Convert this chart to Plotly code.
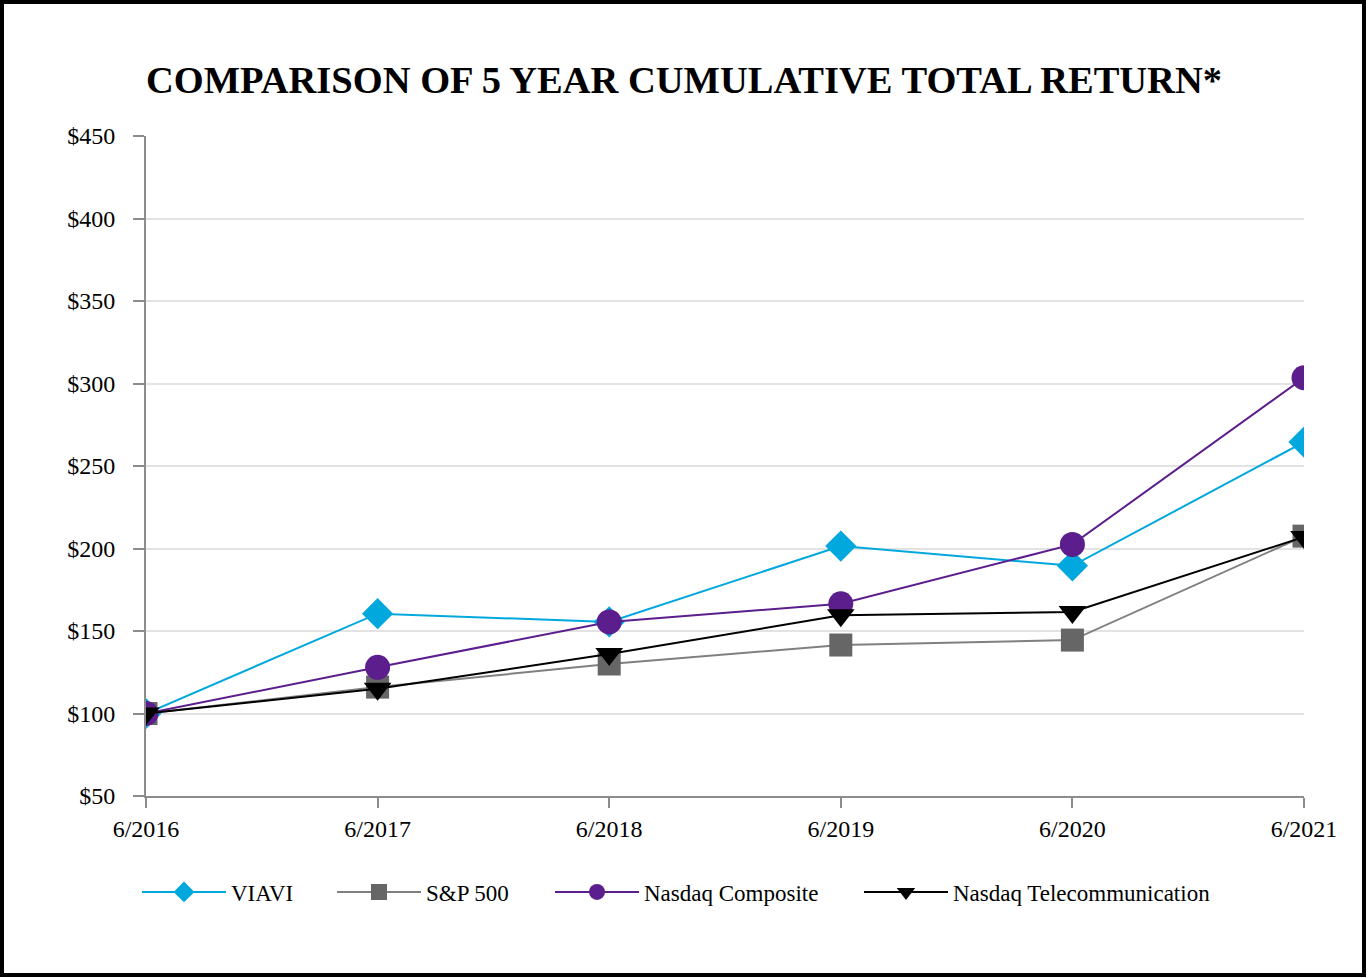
import plotly.graph_objects as go

periods = ["6/2016", "6/2017", "6/2018", "6/2019", "6/2020", "6/2021"]
viavi = [100, 160.5, 155.5, 201.5, 189.5, 264.5]
sp500 = [100, 116, 130, 141.5, 144.5, 207.5]
nasdaq_comp = [100, 128, 155.5, 166.5, 202.5, 303.5]
nasdaq_tel = [100, 115, 136, 159.5, 161.5, 207]
y_ticks = [50, 100, 150, 200, 250, 300, 350, 400, 450]
y_tick_labels = ["$" + str(v) for v in y_ticks]

FONT = "Liberation Serif, Times New Roman, serif"

W, H = 1368, 978
ML, MR, MT, MB = 146, 64, 136, 182
PW, PH = W - ML - MR, H - MT - MB

series = [
    ("VIAVI", viavi, "#00A8DE", "#00A8DE", "diamond", 24, 2),
    ("S&P 500", sp500, "#808080", "#666666", "square", 23, 2),
    ("Nasdaq Composite", nasdaq_comp, "#5B1E8C", "#5B1E8C", "circle", 25, 2),
    ("Nasdaq Telecommunication", nasdaq_tel, "#000000", "#000000", "triangle-down", 24, 2),
]
legend_ids = ["legend", "legend2", "legend3", "legend4"]
legend_px = [137, 332, 550, 859]


def px_x(p):
    return (p - ML) / PW


def px_y(p):
    return (H - MB - p) / PH


fig = go.Figure()
for (name, vals, lc, mc, sym, ms, lw), lid in zip(series, legend_ids):
    fig.add_trace(go.Scatter(
        x=periods, y=vals, name=name, mode="lines+markers",
        line=dict(color=lc, width=lw),
        marker=dict(symbol=sym, size=ms, color=mc, line=dict(width=0)),
        legend=lid,
    ))

fig.add_shape(type="rect", xref="paper", yref="paper",
              x0=px_x(2), x1=px_x(1364), y0=px_y(975), y1=px_y(2),
              line=dict(color="black", width=4), fillcolor="rgba(0,0,0,0)", layer="above")

legend_layout = {}
for lid, lx in zip(legend_ids, legend_px):
    legend_layout[lid] = dict(orientation="h", x=px_x(lx), xanchor="left",
                              y=px_y(892), yanchor="middle",
                              font=dict(family=FONT, size=23, color="black"),
                              itemwidth=84, bgcolor="rgba(0,0,0,0)")

fig.update_layout(
    width=W, height=H,
    margin=dict(l=ML, r=MR, t=MT, b=MB),
    paper_bgcolor="white", plot_bgcolor="white",
    font=dict(family=FONT, size=24, color="black"),
    title=dict(text="<b>COMPARISON OF 5 YEAR CUMULATIVE TOTAL RETURN*</b>",
               x=0.5, xref="container", xanchor="center", y=1 - 80 / H, yanchor="middle",
               font=dict(family=FONT, size=38.5, color="black")),
    showlegend=True,
    xaxis=dict(type="category", range=[0, 5], showgrid=False, showline=True,
               linecolor="#8c8c8c", linewidth=2, ticks="outside", ticklen=10,
               tickcolor="#8c8c8c", tickwidth=2, tickfont=dict(family=FONT, size=24),
               ticklabelstandoff=0, zeroline=False),
    yaxis=dict(range=[50, 450], tickvals=y_ticks, ticktext=y_tick_labels,
               showgrid=True, gridcolor="#e3e3e3", gridwidth=2, showline=True,
               linecolor="#8c8c8c", linewidth=2, ticks="outside", ticklen=11,
               tickcolor="#8c8c8c", tickwidth=2, tickfont=dict(family=FONT, size=24),
               ticklabelstandoff=13, zeroline=False),
    **legend_layout,
)

fig.write_html("out.html", config={"displayModeBar": False},
               post_script="document.body.style.margin='0';document.body.style.overflow='hidden';")
